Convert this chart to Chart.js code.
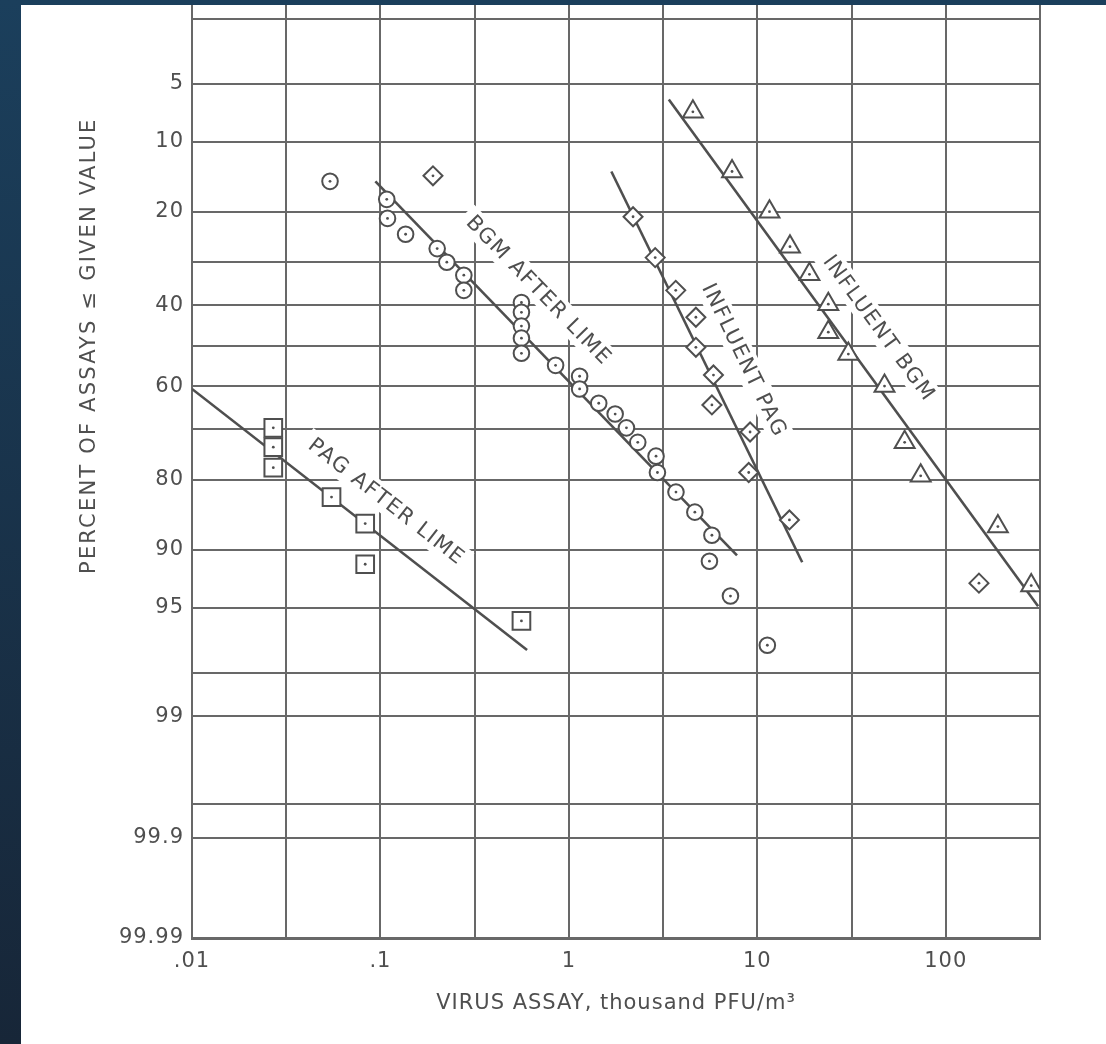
<!DOCTYPE html>
<html>
<head>
<meta charset="utf-8">
<script src="https://cdn.jsdelivr.net/npm/chart.js@4.4.1/dist/chart.umd.min.js"></script>
<style>
  html, body { margin: 0; padding: 0; }
  body { width: 1106px; height: 1044px; overflow: hidden; position: relative;
         background: linear-gradient(#1b3f5c, #172638); }
  #paper { position: absolute; left: 21px; top: 5px; width: 1085px; height: 1039px; background: #fff; }
  canvas { display: block; }
</style>
</head>
<body>
<div id="paper"><canvas id="probChart" width="1085" height="1039"></canvas></div>
<script>
// probability paper: gridlines in percent, and which ones carry a label
const yGridPct    = [2, 5, 10, 20, 30, 40, 50, 60, 70, 80, 90, 95, 98, 99, 99.8, 99.9, 99.99];
const yTickLabels = ['', '5', '10', '20', '', '40', '', '60', '', '80', '90', '95', '', '99', '', '99.9', '99.99'];
const yTopPct = 1.62;      // sheet is cut off just above the 2% line
const yBottomPct = 99.99;

// log axis, a gridline every half decade
const xGrid       = [0.01, 0.03162, 0.1, 0.3162, 1, 3.162, 10, 31.62, 100, 316.2];
const xTickLabels = ['.01', '', '.1', '', '1', '', '10', '', '100', ''];

// PAG after lime (squares)
const pagLimeX = [0.027, 0.027, 0.027, 0.055, 0.083, 0.083, 0.56];
const pagLimeY = [69.7, 73.8, 77.8, 82.9, 86.8, 91.5, 95.8];

// BGM after lime (circles)
const bgmLimeX = [0.054, 0.108, 0.109, 0.136, 0.20, 0.225, 0.277, 0.277, 0.56, 0.56, 0.56, 0.56, 0.56,
                  0.85, 1.14, 1.14, 1.44, 1.76, 2.02, 2.32, 2.9, 2.95, 3.7, 4.66, 5.74, 5.57, 7.2, 11.3];
const bgmLimeY = [15.1, 17.9, 21.2, 24.2, 27.1, 30.0, 32.9, 36.4, 39.3, 41.7, 45.1, 48.1, 51.9,
                  54.9, 57.6, 60.7, 64.1, 66.6, 69.7, 72.8, 75.6, 78.7, 82.1, 85.2, 88.3, 91.2, 94.2, 97.0];

// Influent PAG (diamonds)
const pagInfX = [0.19, 2.19, 2.87, 3.69, 4.72, 4.72, 5.85, 5.74, 9.15, 9.0, 14.8, 150];
const pagInfY = [14.3, 20.9, 29.0, 36.4, 42.9, 50.4, 57.3, 64.5, 70.6, 78.7, 86.3, 93.2];

// Influent BGM (triangles)
const bgmInfX = [4.55, 7.34, 11.6, 14.9, 18.9, 23.8, 23.8, 30.4, 47.3, 60.5, 73.6, 189, 284];
const bgmInfY = [7.1, 13.7, 20.0, 26.7, 32.7, 39.7, 46.6, 52.1, 60.0, 72.8, 79.3, 87.2, 93.4];

// fitted straight lines (end points)
const pagLimeFitX = [0.01, 0.60],  pagLimeFitY = [60.7, 97.2];
const bgmLimeFitX = [0.094, 7.8],  bgmLimeFitY = [15.1, 90.6];
const pagInfFitX  = [1.68, 17.3],  pagInfFitY  = [13.7, 91.3];
const bgmInfFitX  = [3.39, 309],   bgmInfFitY  = [6.1, 94.9];

// curve labels: text, anchor (x, percent), fitted line they follow
const curveNames  = ['PAG AFTER LIME', 'BGM AFTER LIME', 'INFLUENT PAG', 'INFLUENT BGM'];
const curveLabelX = [0.107, 0.688, 8.5, 44];
const curveLabelY = [83.5, 36.2, 53.4, 45.4];

const ink = '#4f4f4f';
const gridInk = '#686868';
const font = 'DejaVu Sans';

// inverse normal CDF (Acklam), percent -> z
function probit(pct) {
  const p = pct / 100;
  const a = [-3.969683028665376e+01, 2.209460984245205e+02, -2.759285104469687e+02, 1.383577518672690e+02, -3.066479806614716e+01, 2.506628277459239e+00];
  const b = [-5.447609879822406e+01, 1.615858368580409e+02, -1.556989798598866e+02, 6.680131188771972e+01, -1.328068155288572e+01];
  const c = [-7.784894002430293e-03, -3.223964580411365e-01, -2.400758277161838e+00, -2.549732539343734e+00, 4.374664141464968e+00, 2.938163982698783e+00];
  const d = [7.784695709041462e-03, 3.224671290700398e-01, 2.445134137142996e+00, 3.754408661907416e+00];
  const pl = 0.02425;
  let q, r;
  if (p < pl) {
    q = Math.sqrt(-2 * Math.log(p));
    return (((((c[0]*q+c[1])*q+c[2])*q+c[3])*q+c[4])*q+c[5]) / ((((d[0]*q+d[1])*q+d[2])*q+d[3])*q+1);
  }
  if (p > 1 - pl) {
    q = Math.sqrt(-2 * Math.log(1 - p));
    return -(((((c[0]*q+c[1])*q+c[2])*q+c[3])*q+c[4])*q+c[5]) / ((((d[0]*q+d[1])*q+d[2])*q+d[3])*q+1);
  }
  q = p - 0.5; r = q * q;
  return (((((a[0]*r+a[1])*r+a[2])*r+a[3])*r+a[4])*r+a[5])*q / (((((b[0]*r+b[1])*r+b[2])*r+b[3])*r+b[4])*r+1);
}

const pts = (xs, ys) => xs.map((x, i) => ({ x, y: probit(ys[i]) }));

const markerBase = { showLine: false, borderColor: ink, backgroundColor: '#fff', borderWidth: 2, order: 1, centerDot: true };
const fitBase = { showLine: true, borderColor: ink, borderWidth: 2.6, pointRadius: 0, order: 2 };

const datasets = [
  { ...fitBase, label: 'pag lime fit', data: pts(pagLimeFitX, pagLimeFitY) },
  { ...fitBase, label: 'bgm lime fit', data: pts(bgmLimeFitX, bgmLimeFitY) },
  { ...fitBase, label: 'pag inf fit',  data: pts(pagInfFitX, pagInfFitY) },
  { ...fitBase, label: 'bgm inf fit',  data: pts(bgmInfFitX, bgmInfFitY) },
  { ...markerBase, label: 'PAG after lime', data: pts(pagLimeX, pagLimeY), pointStyle: 'rect', pointRadius: 12.5 },
  { ...markerBase, label: 'BGM after lime', data: pts(bgmLimeX, bgmLimeY), pointStyle: 'circle', pointRadius: 7.8 },
  { ...markerBase, label: 'Influent PAG',   data: pts(pagInfX, pagInfY),   pointStyle: 'rectRot', pointRadius: 9.5 },
  { ...markerBase, label: 'Influent BGM',   data: pts(bgmInfX, bgmInfY),   pointStyle: 'triangle', pointRadius: 11.5 }
];

// slightly wider lettering for the tick numbers
const spacingPlugin = {
  id: 'spacing',
  beforeDraw(chart) { chart.ctx.letterSpacing = '1px'; }
};

// labels written along the fitted lines, on a white patch that breaks the grid
const curveLabelPlugin = {
  id: 'curveLabels',
  beforeDatasetsDraw(chart) {
    const { ctx, scales } = chart;
    ctx.save();
    ctx.font = `21px "${font}"`;
    ctx.letterSpacing = '1.5px';
    ctx.textAlign = 'center';
    ctx.textBaseline = 'middle';
    curveNames.forEach((name, i) => {
      const seg = chart.getDatasetMeta(i).data;
      const ang = Math.atan2(seg[1].y - seg[0].y, seg[1].x - seg[0].x);
      const px = scales.x.getPixelForValue(curveLabelX[i]);
      const py = scales.y.getPixelForValue(probit(curveLabelY[i]));
      ctx.save();
      ctx.translate(px, py);
      ctx.rotate(ang);
      const w = ctx.measureText(name).width;
      ctx.fillStyle = '#fff';
      ctx.fillRect(-w / 2 - 6, -13, w + 12, 26);
      ctx.fillStyle = ink;
      ctx.fillText(name, 1, 1);
      ctx.restore();
    });
    ctx.restore();
  }
};

// little dot in the middle of every plotted symbol, plus the vertical axis title
const decorPlugin = {
  id: 'decor',
  afterDatasetsDraw(chart) {
    const { ctx } = chart;
    ctx.save();
    ctx.fillStyle = ink;
    chart.data.datasets.forEach((ds, i) => {
      if (!ds.centerDot) return;
      chart.getDatasetMeta(i).data.forEach(pt => {
        ctx.beginPath();
        ctx.arc(pt.x, pt.y, 1.4, 0, Math.PI * 2);
        ctx.fill();
      });
    });
    ctx.restore();
  },
  afterDraw(chart) {
    const { ctx, scales } = chart;
    ctx.save();
    ctx.translate(69, scales.y.getPixelForValue(probit(50)));
    ctx.rotate(-Math.PI / 2);
    ctx.font = `21px "${font}"`;
    ctx.letterSpacing = '2.2px';
    ctx.fillStyle = ink;
    ctx.textAlign = 'center';
    ctx.textBaseline = 'middle';
    ctx.fillText('PERCENT OF ASSAYS \u2264 GIVEN VALUE', 0, 0);
    ctx.restore();
  }
};

new Chart(document.getElementById('probChart'), {
  type: 'scatter',
  data: { datasets },
  plugins: [spacingPlugin, curveLabelPlugin, decorPlugin],
  options: {
    responsive: false,
    animation: false,
    layout: { autoPadding: false, padding: { left: 0, right: 66, top: 0, bottom: 0 } },
    plugins: { legend: { display: false }, tooltip: { enabled: false } },
    scales: {
      x: {
        type: 'logarithmic',
        min: 0.01,
        max: 316.2,
        afterBuildTicks: s => { s.ticks = xGrid.map(v => ({ value: v })); },
        afterFit: s => { s.height = 106; s.paddingLeft = 0; s.paddingRight = 0; },
        ticks: {
          autoSkip: false, maxRotation: 0, padding: 11,
          color: ink, font: { family: font, size: 21 },
          callback: (v, i) => xTickLabels[i]
        },
        grid: { color: gridInk, lineWidth: 2, drawTicks: false },
        border: { color: gridInk, width: 3 },
        title: {
          display: true,
          text: 'VIRUS ASSAY, thousand PFU/m\u00B3',
          color: ink, font: { family: font, size: 21 },
          padding: { top: 0, bottom: 28 }
        }
      },
      y: {
        type: 'linear',
        reverse: true,
        min: probit(yTopPct),
        max: probit(yBottomPct),
        afterBuildTicks: s => { s.ticks = yGridPct.map(p => ({ value: probit(p) })); },
        afterFit: s => { s.width = 171; s.paddingTop = 0; s.paddingBottom = 0; },
        ticks: {
          autoSkip: false, padding: 8,
          color: ink, font: { family: font, size: 21 },
          callback: (v, i) => yTickLabels[i]
        },
        grid: { color: gridInk, lineWidth: 2, drawTicks: false },
        border: { color: gridInk, width: 2 }
      }
    }
  }
});
</script>
</body>
</html>
